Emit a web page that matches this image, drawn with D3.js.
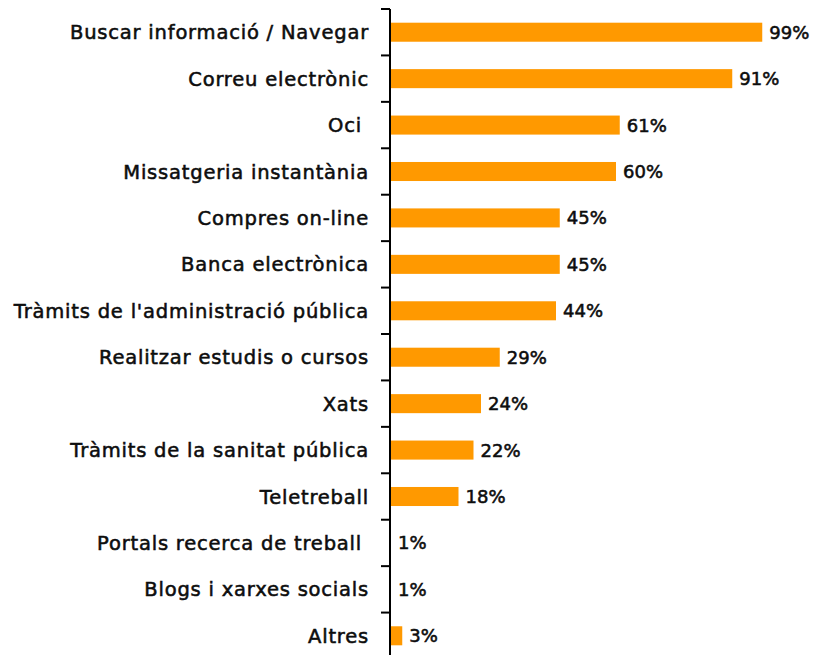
<!DOCTYPE html>
<html>
<head>
<meta charset="utf-8">
<script src="https://cdn.jsdelivr.net/npm/d3@7"></script>
<style>
    body { margin: 0; background: #fff; }
    svg text { font-family: "DejaVu Sans", Verdana, sans-serif; fill: #0d0d0d; stroke: #0d0d0d; stroke-width: 0.55px; white-space: pre; }
</style>
</head>
<body>
<svg id="chart"></svg>
<script>
    // categories and values
    const categories = ["Buscar informació / Navegar", "Correu electrònic", "Oci ", "Missatgeria instantània",
        "Compres on-line", "Banca electrònica", "Tràmits de l'administració pública", "Realitzar estudis o cursos",
        "Xats", "Tràmits de la sanitat pública", "Teletreball", "Portals recerca de treball ",
        "Blogs i xarxes socials", "Altres"];
    const values = [99, 91, 61, 60, 45, 45, 44, 29, 24, 22, 18, 0, 0, 3];
    const valueLabels = ["99%", "91%", "61%", "60%", "45%", "45%", "44%", "29%", "24%", "22%", "18%", "1%", "1%", "3%"];

    const width = 815, height = 655;
    const margin = { top: 9, right: 0, bottom: 0, left: 390 };

    const svg = d3.select("#chart").attr("width", width).attr("height", height);
    const g = svg.append("g").attr("transform", `translate(${margin.left},${margin.top})`);

    const x = d3.scaleLinear().domain([0, 100]).range([0, 375]);
    const y = d3.scaleBand().domain(categories).range([0, 650]).paddingInner(0.59).paddingOuter(0.295);

    // bars
    g.selectAll("rect.bar")
        .data(categories)
        .enter()
        .append("rect")
        .attr("class", "bar")
        .attr("x", 1)
        .attr("y", (d, i) => y(d))
        .attr("width", (d, i) => x(values[i]))
        .attr("height", y.bandwidth())
        .attr("fill", "#ff9900");

    // value labels
    g.selectAll("text.val")
        .data(categories)
        .enter()
        .append("text")
        .attr("class", "val")
        .attr("x", (d, i) => x(values[i]) + 8)
        .attr("y", d => y(d) + y.bandwidth() / 2)
        .attr("dy", "0.36em")
        .attr("font-size", 18)
        .text((d, i) => valueLabels[i]);

    // axis line with tick marks on band boundaries
    const step = y.step();
    g.append("line")
        .attr("x1", 0).attr("x2", 0)
        .attr("y1", 0).attr("y2", height)
        .attr("stroke", "#000").attr("stroke-width", 2);

    g.selectAll("line.tick")
        .data(d3.range(categories.length))
        .enter()
        .append("line")
        .attr("class", "tick")
        .attr("x1", -9).attr("x2", 0)
        .attr("y1", i => y(categories[i]) - y.paddingOuter() * step)
        .attr("y2", i => y(categories[i]) - y.paddingOuter() * step)
        .attr("stroke", "#000").attr("stroke-width", 2);

    // category labels
    g.selectAll("text.cat")
        .data(categories)
        .enter()
        .append("text")
        .attr("class", "cat")
        .attr("x", -21)
        .attr("y", d => y(d) + y.bandwidth() / 2)
        .attr("dy", "0.36em")
        .attr("text-anchor", "end")
        .attr("font-size", 19.5)
        .attr("letter-spacing", 0.8)
        .text(d => d);
</script>
</body>
</html>
